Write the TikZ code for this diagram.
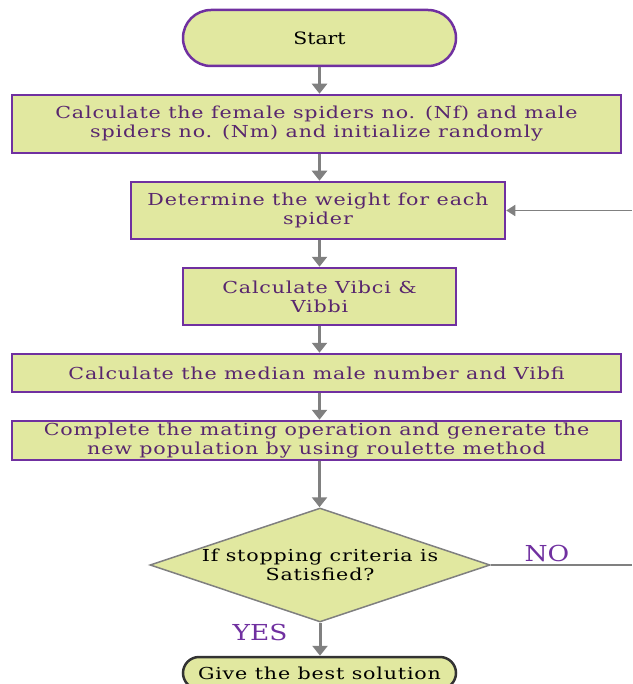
\documentclass[tikz,border=0pt]{standalone}
\usepackage{fontspec}
\setmainfont[FakeStretch=1.2]{DejaVu Serif}
\newfontfamily\boxfont[FakeStretch=1.25,LetterSpace=5]{DejaVu Serif}
\usetikzlibrary{arrows.meta,shapes.geometric}
\definecolor{boxfill}{RGB}{225,232,160}
\definecolor{boxline}{RGB}{112,48,160}
\definecolor{boxtext}{RGB}{88,38,110}
\definecolor{arr}{RGB}{128,128,128}
\begin{document}
\begin{tikzpicture}[x=1pt,y=-1pt,
  every node/.style={font=\boxfont\fontsize{16.5}{19}\selectfont, align=center, inner sep=0pt},
  stepbox/.style={draw=boxline, fill=boxfill, line width=2.5pt, text=boxtext},
  term/.style={fill=boxfill, line width=2.5pt, text=black},
  cond/.style={diamond, draw=arr, fill=boxfill, line width=1.5pt, text=black, aspect=3},
  flow/.style={draw=arr, line width=3pt, -{Triangle[length=10pt,width=15pt]}},
  lab/.style={text=boxline, font=\rmfamily\fontsize{22}{24}\selectfont}]
\useasboundingbox (0,0) rectangle (632,684);
\node[term, draw=boxline, rounded corners=28pt, minimum width=273pt, minimum height=56pt, font=\rmfamily\fontsize{17}{19}\selectfont] (start) at (319.5,38) {Start};
\node[stepbox, minimum width=609pt, minimum height=58pt] (b1) at (316.5,124) {Calculate the female spiders no. (Nf) and male\\spiders no. (Nm) and initialize randomly};
\node[stepbox, minimum width=374pt, minimum height=57pt] (b2) at (318,210.5) {Determine the weight for each\\spider};
\node[stepbox, minimum width=273pt, minimum height=57pt] (b3) at (319.5,296.5) {Calculate Vibci \&\\Vibbi};
\node[stepbox, minimum width=609pt, minimum height=38pt] (b4) at (316.5,373) {Calculate the median male number and Vibfi};
\node[stepbox, minimum width=609pt, minimum height=39pt] (b5) at (316.5,440.5) {Complete the mating operation and generate the\\new population by using roulette method};
\node[cond, minimum width=340pt, minimum height=114pt] (d) at (320,565) {If stopping criteria is\\Satisfied?};
\node[term, draw=black!80, rounded corners=16pt, minimum width=273pt, minimum height=32pt] (end) at (319.5,673) {Give the best solution};
\coordinate (noend) at (632,565);
\coordinate (backin) at (632,210.5);
\draw[flow] (start.south) -- (start.south |- b1.north);
\draw[flow] (start.south |- b1.south) -- (start.south |- b2.north);
\draw[flow] (start.south |- b2.south) -- (start.south |- b3.north);
\draw[flow] (b3.south) -- (b3.south |- b4.north);
\draw[flow] (b3.south |- b4.south) -- (b3.south |- b5.north);
\draw[flow] (b3.south |- b5.south) -- (b3.south |- d.north);
\draw[flow] (d.south) -- (d.south |- end.north);
\draw[draw=arr, line width=1.8pt] (d.east) -- (noend);
\draw[flow, line width=1.8pt, -{Triangle[length=9pt,width=11pt]}] (backin) -- (b2.east);
\node[lab] (no) at (547,553) {NO};
\node[lab] (yes) at (260,632) {YES};
\end{tikzpicture}
\end{document}
